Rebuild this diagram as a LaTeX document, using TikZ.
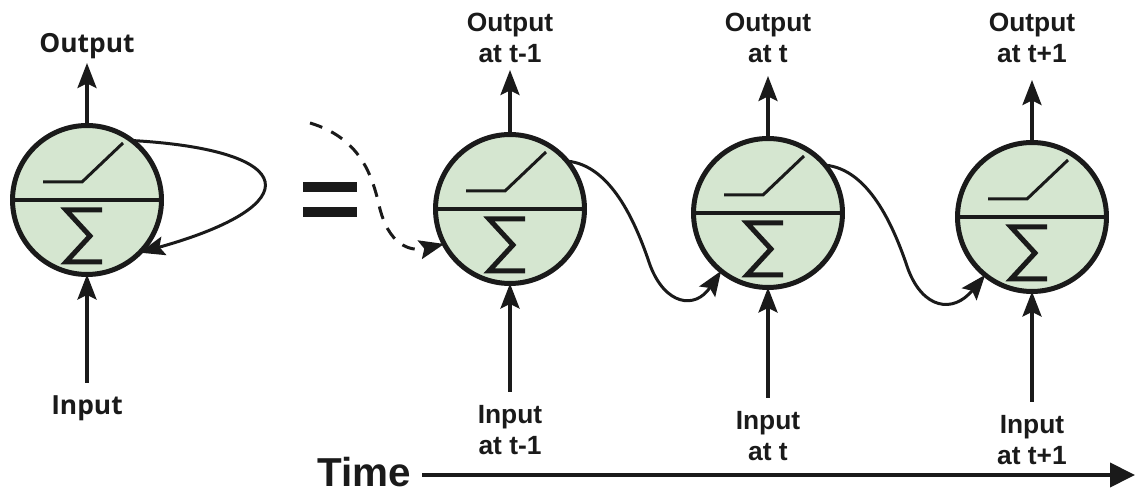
\documentclass[tikz,border=0pt]{standalone}
\usepackage{fontspec}
\setmainfont{Liberation Sans}
\newfontfamily\roundsans{Open Sans}
\usetikzlibrary{arrows.meta,calc,positioning}
\definecolor{Ink}{HTML}{1A1A1A}
\definecolor{Leaf}{HTML}{D5E6D0}

\begin{document}
\begin{tikzpicture}[
      x=0.02cm, y=-0.02cm,
      >={Stealth[length=0.5cm,width=0.38cm,inset=0.09cm]},
      cell/.style={circle, draw=Ink, line width=0.1cm, fill=Leaf,
                   minimum size=2.98cm, inner sep=0pt, outer sep=0pt},
      wire/.style={->, line width=0.065cm, Ink},
      loop/.style={->, line width=0.06cm, Ink},
      divider/.style={line width=0.08cm, Ink},
      ramp/.style={line width=0.06cm, Ink},
      sigma/.style={line width=0.1cm, Ink, line join=miter},
      lbl/.style={font=\bfseries\fontsize{15}{17.6}\selectfont, text=Ink,
                  align=center, inner sep=0pt, text depth=0pt},
      lblround/.style={lbl, font=\roundsans\bfseries\fontsize{15}{17.6}\selectfont}
    ]
      \useasboundingbox (0,0) rectangle (1137,496);

      % folded cell and the unrolled cells
      \node[cell] (c0) at (87,200) {};
      \node[cell] (c1) at (510,209) {};
      \node[cell] (c2) at (768,213) {};
      \node[cell] (c3) at (1032,217) {};

      \foreach \c in {c0,c1,c2,c3}{
        \draw[divider] (\c.west) -- (\c.east);
        \draw[ramp] ($(\c)+(-44,-18)$) -- ++(39,0) -- ++(41,-39);
        \draw[sigma] ($(\c)+(15,10)$) -- ++(-36,0) -- ++(24,26) -- ++(-24,26) -- ++(36,0);
      }

      % outputs
      \coordinate (t0) at (87,63);
      \coordinate (t1) at (510,70);
      \coordinate (t2) at (768,76);
      \coordinate (t3) at (1032,80);
      \draw[wire] (c0) -- (t0);
      \draw[wire] (c1) -- (t1);
      \draw[wire] (c2) -- (t2);
      \draw[wire] (c3) -- (t3);
      \node[lblround, above=0.2cm of t0] (o0) {Output};
      \node[lbl, above=0.14cm of t1] (o1) {Output\\at t-1};
      \node[lbl, above=0.26cm of t2] (o2) {Output\\at t};
      \node[lbl, above=0.34cm of t3] (o3) {Output\\at t+1};

      % inputs
      \coordinate (b0) at (87,383);
      \coordinate (b1) at (510,392);
      \coordinate (b2) at (768,398);
      \coordinate (b3) at (1032,402);
      \draw[wire] (b0) -- (c0);
      \draw[wire] (b1) -- (c1);
      \draw[wire] (b2) -- (c2);
      \draw[wire] (b3) -- (c3);
      \node[lblround, below=0.24cm of b0] (i0) {Input};
      \node[lbl, below=0.26cm of b1] (i1) {Input\\at t-1};
      \node[lbl, below=0.26cm of b2] (i2) {Input\\at t};
      \node[lbl, below=0.26cm of b3] (i3) {Input\\at t+1};

      % recurrence
      \draw[loop] (c0.53) .. controls (300,150) and (310,205) .. (c0.-45);
      \foreach \a/\b in {c1/c2, c2/c3}{
        \draw[loop] (\a.40) .. controls ($(\a)+(100,-44)$) and ($(\a)+(125,11)$)
          .. ($(\a)+(140,56)$) .. controls ($(\a)+(155,96)$) and ($(\a)+(185,101)$)
          .. (\b.231);
      }
      \coordinate (prev) at (310,123);
      \draw[loop, dash pattern=on 0.26cm off 0.2cm] (prev)
        .. controls (360,138) and (372,175) .. (379,205)
        .. controls (388,245) and (410,252) .. (c1.208);

      % equals sign
      \node[fill=Ink, minimum width=1.1cm, minimum height=0.19cm, inner sep=0pt] (eqa) at (330,187) {};
      \node[fill=Ink, minimum width=1.1cm, minimum height=0.19cm, inner sep=0pt] (eqb) at (330,212) {};

      % time axis
      \node[font=\bfseries\fontsize{23}{26}\selectfont, text=Ink, inner ysep=0.1cm, inner xsep=0.22cm] (time) at (364,472) {Time};
      \coordinate (tend) at (1135,475);
      \draw[-{Triangle[length=0.5cm,width=0.48cm]}, line width=0.08cm, Ink] (time.east |- tend) -- (tend);
    \end{tikzpicture}
\end{document}
